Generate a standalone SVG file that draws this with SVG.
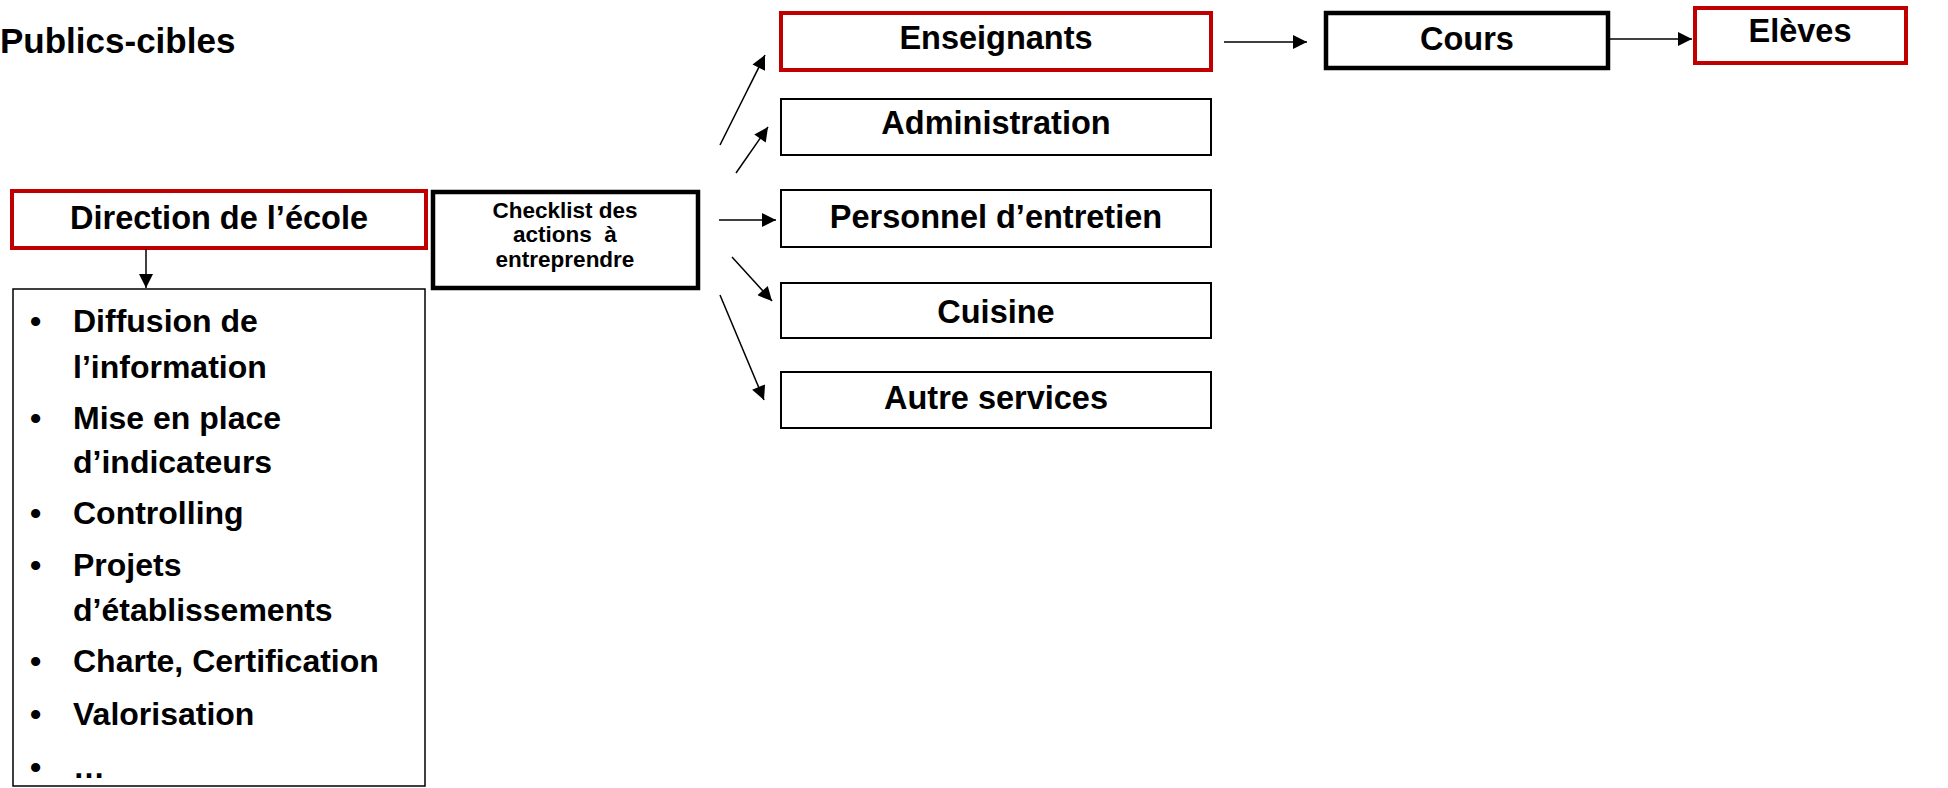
<svg xmlns="http://www.w3.org/2000/svg" width="1948" height="788" viewBox="0 0 1948 788">
<style>
text{font-family:"Liberation Sans",Arial,sans-serif;font-weight:bold;fill:#000}
.lbl{font-size:32.5px;text-anchor:middle}
.li{font-size:32px}
.ck{font-size:22.5px;text-anchor:middle}
.red{fill:#fff;stroke:#C00000;stroke-width:4}
.thick{fill:#fff;stroke:#000;stroke-width:4.5}
.thin{fill:#fff;stroke:#000;stroke-width:2}
.conn line{stroke:#000;stroke-width:1.5;marker-end:url(#ah)}
</style>
<defs>
<marker id="ah" viewBox="0 0 10 10" refX="10" refY="5" markerWidth="19" markerHeight="14" markerUnits="userSpaceOnUse" orient="auto">
<path d="M0,0 L10,5 L0,10 z" fill="#000"/>
</marker>
</defs>
<rect width="1948" height="788" fill="#fff"/>
<g id="title"><text x="0" y="53" style="font-size:35px">Publics-cibles</text></g>
<g id="direction"><rect class="red" x="12" y="191" width="414" height="57"/><text class="lbl" x="219" y="229">Direction de l’école</text></g>
<g id="actions"><rect class="thin" x="13" y="289" width="412" height="497" style="stroke-width:1.5"/>
<text x="30" y="332" class="li">•</text><text x="73" y="332" class="li">Diffusion de</text>
<text x="73" y="378" class="li">l’information</text>
<text x="30" y="429" class="li">•</text><text x="73" y="429" class="li">Mise en place</text>
<text x="73" y="473" class="li">d’indicateurs</text>
<text x="30" y="524" class="li">•</text><text x="73" y="524" class="li">Controlling</text>
<text x="30" y="576" class="li">•</text><text x="73" y="576" class="li">Projets</text>
<text x="73" y="621" class="li">d’établissements</text>
<text x="30" y="672" class="li">•</text><text x="73" y="672" class="li">Charte, Certification</text>
<text x="30" y="725" class="li">•</text><text x="73" y="725" class="li">Valorisation</text>
<text x="30" y="778" class="li">•</text><text x="73" y="778" class="li">…</text>
</g>
<g id="checklist"><rect class="thick" x="433" y="192" width="265" height="96"/>
<text class="ck" x="565" y="218">Checklist des</text>
<text class="ck" x="565" y="242" xml:space="preserve">actions  à</text>
<text class="ck" x="565" y="267">entreprendre</text></g>
<g id="enseignants"><rect class="red" x="781" y="13" width="430" height="57"/><text class="lbl" x="996" y="49">Enseignants</text></g>
<g id="administration"><rect class="thin" x="781" y="99" width="430" height="56"/><text class="lbl" x="996" y="134">Administration</text></g>
<g id="personnel"><rect class="thin" x="781" y="190" width="430" height="57"/><text class="lbl" x="996" y="228">Personnel d’entretien</text></g>
<g id="cuisine"><rect class="thin" x="781" y="283" width="430" height="55"/><text class="lbl" x="996" y="323">Cuisine</text></g>
<g id="autres"><rect class="thin" x="781" y="372" width="430" height="56"/><text class="lbl" x="996" y="409">Autre services</text></g>
<g id="cours"><rect class="thick" x="1326" y="13" width="282" height="55"/><text class="lbl" x="1467" y="50">Cours</text></g>
<g id="eleves"><rect class="red" x="1695" y="8" width="211" height="55"/><text class="lbl" x="1800" y="42">Elèves</text></g>
<g id="connectors" class="conn">
<line x1="146" y1="249" x2="146" y2="288"/>
<line x1="720" y1="145" x2="765" y2="55"/>
<line x1="736" y1="173" x2="768" y2="127"/>
<line x1="719" y1="220" x2="776" y2="220"/>
<line x1="732" y1="257" x2="772" y2="301"/>
<line x1="720" y1="295" x2="764" y2="400"/>
<line x1="1224" y1="42" x2="1307" y2="42"/>
<line x1="1609" y1="39" x2="1692" y2="39"/>
</g>
</svg>
